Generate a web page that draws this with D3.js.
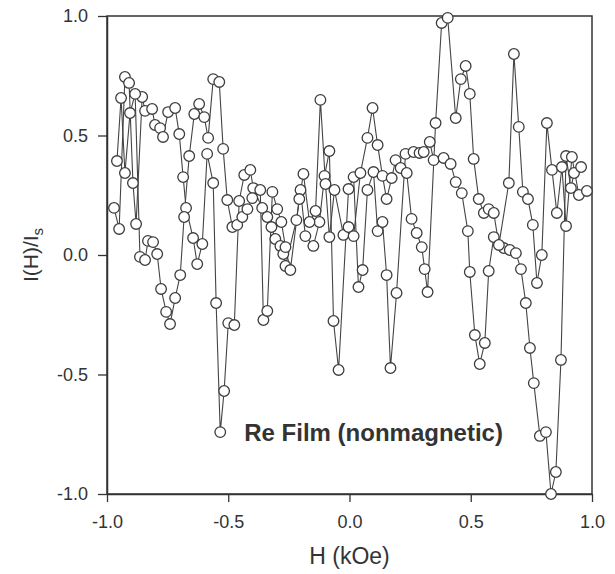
<!DOCTYPE html>
<html>
<head>
<meta charset="utf-8">
<script src="https://cdn.jsdelivr.net/npm/d3@7"></script>
<style>
  body { margin: 0; background: #fff; }
  svg { display: block; }
</style>
</head>
<body>
<script>
// Field sweep A: applied field H (kOe) and normalised intensity I(H)/Is
const hSweepA = [-0.971,-0.950,-0.926,-0.909,-0.893,-0.880,-0.855,-0.843,-0.814,-0.802,
  -0.781,-0.769,-0.748,-0.719,-0.702,-0.686,-0.674,-0.645,-0.628,-0.607,
  -0.587,-0.562,-0.550,-0.533,-0.517,-0.500,-0.475,-0.455,-0.434,-0.409,
  -0.397,-0.360,-0.339,-0.322,-0.306,-0.285,-0.273,-0.264,-0.219,-0.202,
  -0.182,-0.149,-0.124,-0.103,-0.083,-0.066,-0.045,-0.004,0.017,0.037,
  0.054,0.074,0.099,0.116,0.136,0.153,0.169,0.194,0.231,0.264,
  0.289,0.306,0.331,0.347,0.388,0.417,0.438,0.463,0.488,0.496,
  0.517,0.537,0.558,0.574,0.595,0.636,0.661,0.686,0.707,0.727,
  0.744,0.760,0.785,0.810,0.831,0.851,0.872,0.893,0.913,0.926,
  0.955];
const iSweepA = [0.197,0.109,0.745,0.720,0.301,0.130,0.661,0.603,0.611,0.544,
  0.531,0.494,0.598,0.615,0.506,0.326,0.197,0.071,-0.038,0.046,
  0.423,0.301,-0.201,-0.741,-0.569,-0.285,-0.293,0.226,0.335,0.356,
  0.280,0.197,0.159,0.117,0.067,0.038,0.004,-0.046,0.146,0.272,
  0.079,0.038,0.138,0.331,0.435,-0.276,-0.481,0.276,0.326,-0.134,
  -0.063,0.272,0.347,0.100,0.138,-0.084,-0.473,-0.159,0.423,0.431,
  0.427,0.431,0.473,0.397,0.406,0.381,0.305,0.259,0.100,-0.071,
  -0.335,-0.456,-0.368,-0.067,0.075,0.029,0.021,0.008,-0.059,-0.201,
  -0.389,-0.536,-0.757,-0.741,-1.000,-0.908,-0.439,0.414,0.280,0.343,
  0.368];

// Field sweep B
const hSweepB = [-0.959,-0.942,-0.926,-0.905,-0.884,-0.864,-0.843,-0.831,-0.810,-0.793,
  -0.777,-0.756,-0.740,-0.719,-0.698,-0.682,-0.661,-0.640,-0.620,-0.599,
  -0.583,-0.562,-0.537,-0.521,-0.504,-0.483,-0.463,-0.442,-0.421,-0.401,
  -0.368,-0.355,-0.339,-0.318,-0.298,-0.281,-0.264,-0.244,-0.207,-0.190,
  -0.165,-0.140,-0.120,-0.099,-0.083,-0.062,-0.025,-0.004,0.017,0.045,
  0.074,0.095,0.116,0.136,0.153,0.174,0.190,0.211,0.236,0.256,
  0.277,0.298,0.310,0.322,0.355,0.380,0.405,0.438,0.459,0.479,
  0.496,0.512,0.533,0.554,0.574,0.595,0.616,0.657,0.678,0.698,
  0.715,0.736,0.756,0.773,0.793,0.814,0.835,0.855,0.876,0.893,
  0.917,0.946,0.979];
const iSweepB = [0.393,0.657,0.343,0.594,0.674,-0.008,-0.021,0.059,0.054,0.004,
  -0.142,-0.238,-0.289,-0.180,-0.084,0.159,0.414,0.590,0.632,0.577,
  0.490,0.736,0.724,0.444,0.230,0.117,0.126,0.159,0.192,0.238,
  0.272,-0.272,-0.234,0.264,0.192,0.138,0.033,-0.063,0.234,0.339,
  0.138,0.184,0.649,0.297,0.075,0.272,0.084,0.117,0.079,0.343,
  0.490,0.615,0.460,0.331,0.234,0.322,0.397,0.364,0.343,0.151,
  0.092,0.033,-0.059,-0.155,0.552,0.971,0.992,0.573,0.736,0.791,
  0.674,0.402,0.234,0.176,0.192,0.176,0.042,0.301,0.841,0.536,
  0.264,0.234,0.126,-0.117,0.000,0.552,0.356,0.176,0.368,0.121,
  0.410,0.251,0.268];

const xTickValues = [-1.0, -0.5, 0.0, 0.5, 1.0];
const yTickValues = [-1.0, -0.5, 0.0, 0.5, 1.0];
const xLabel = "H (kOe)";
const annotation = "Re Film (nonmagnetic)";

const W = 615, H = 574;
const margin = { top: 16, right: 23, bottom: 80, left: 107 };
const iw = W - margin.left - margin.right;
const ih = H - margin.top - margin.bottom;
const ink = "#333";
const font = "'Liberation Sans', Arial, Helvetica, sans-serif";

const svg = d3.select("body").append("svg").attr("width", W).attr("height", H);
const g = svg.append("g").attr("transform", `translate(${margin.left},${margin.top})`);

const x = d3.scaleLinear().domain([-1, 1]).range([0, iw]);
const y = d3.scaleLinear().domain([-1, 1]).range([ih, 0]);

// axes (tick labels with a plain hyphen for negatives)
const fmt = v => v.toFixed(1);
const xAxis = g.append("g").attr("transform", `translate(0,${ih})`)
  .call(d3.axisBottom(x).tickValues(xTickValues).tickFormat(fmt).tickSize(8).tickSizeOuter(0).tickPadding(13));
const yAxis = g.append("g")
  .call(d3.axisLeft(y).tickValues(yTickValues).tickFormat(fmt).tickSize(9).tickSizeOuter(0).tickPadding(10));
[xAxis, yAxis].forEach(a => {
  a.selectAll("path").attr("stroke", ink).attr("stroke-width", 1.5);
  a.selectAll("line").attr("stroke", ink).attr("stroke-width", 1.3);
  a.selectAll("text").attr("fill", ink).style("font-family", font).style("font-size", "18px");
});

// plot frame
g.append("rect").attr("x", 0).attr("y", 0).attr("width", iw).attr("height", ih)
  .attr("fill", "none").attr("stroke", ink).attr("stroke-width", 1.5);

// axis titles
svg.append("text")
  .attr("x", margin.left + x(0)).attr("y", 564)
  .attr("text-anchor", "middle").attr("fill", ink)
  .style("font-family", font).style("font-size", "23px")
  .text(xLabel);

const yt = svg.append("text")
  .attr("transform", `translate(38,${margin.top + y(0)}) rotate(-90)`)
  .attr("text-anchor", "middle").attr("fill", ink)
  .style("font-family", font).style("font-size", "21px");
yt.append("tspan").text("I(H)/I");
yt.append("tspan").attr("dy", "0.3em").style("font-size", "15px").text("s");

// data traces
const sweeps = [
  hSweepA.map((h, i) => ({ h, v: iSweepA[i] })),
  hSweepB.map((h, i) => ({ h, v: iSweepB[i] }))
];
const line = d3.line().x(d => x(d.h)).y(d => y(d.v));
g.selectAll("path.trace").data(sweeps).enter().append("path")
  .attr("class", "trace").attr("d", line)
  .attr("fill", "none").attr("stroke", "#444").attr("stroke-width", 1.1);

sweeps.forEach(s => {
  g.append("g").selectAll("circle").data(s).enter().append("circle")
    .attr("cx", d => x(d.h)).attr("cy", d => y(d.v)).attr("r", 5.3)
    .attr("fill", "#fff").attr("stroke", "#3c3c3c").attr("stroke-width", 1.3);
});

// annotation
g.append("text")
  .attr("x", x(-0.434)).attr("y", y(-0.778))
  .attr("fill", ink).style("font-family", font).style("font-weight", "bold")
  .style("font-size", "24px")
  .text(annotation);
</script>
</body>
</html>
